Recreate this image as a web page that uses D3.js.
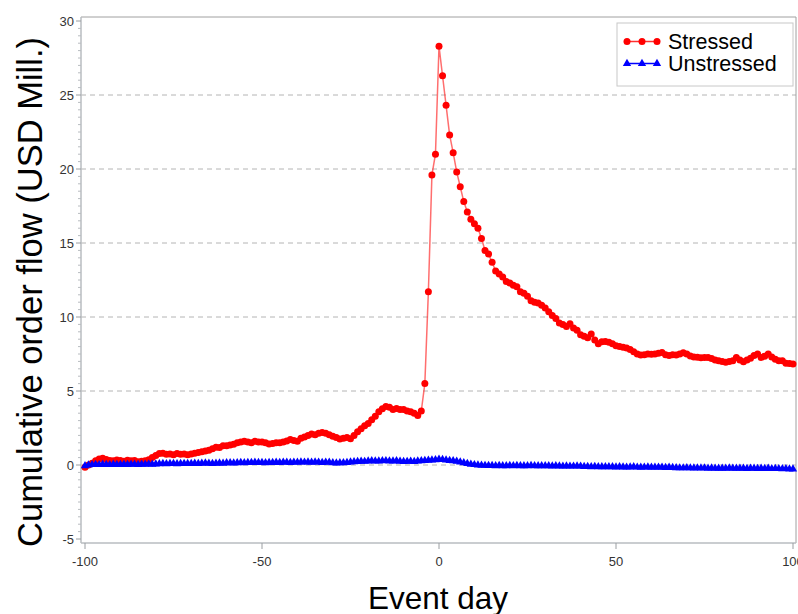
<!DOCTYPE html>
<html>
<head>
<meta charset="utf-8">
<script src="https://cdn.jsdelivr.net/npm/d3@7"></script>
<style>
  html, body { margin: 0; padding: 0; background: #fff; overflow: hidden; }
  svg { display: block; }
</style>
</head>
<body>
<svg id="chart" width="798" height="614"></svg>
<script>
// ---- data ----
const days = d3.range(-100, 101);
const stressed = [
  -0.15, 0.0, 0.12, 0.28, 0.4, 0.45, 0.38, 0.3, 0.28, 0.33,
  0.3, 0.25, 0.32, 0.28, 0.3, 0.22, 0.25, 0.28, 0.35, 0.5,
  0.65, 0.78, 0.8, 0.72, 0.75, 0.7, 0.78, 0.72, 0.75, 0.7,
  0.75, 0.8, 0.85, 0.9, 0.95, 1.0, 1.1, 1.2, 1.18, 1.3,
  1.3, 1.35, 1.4, 1.5, 1.55, 1.6, 1.55, 1.5, 1.6, 1.55,
  1.55, 1.5, 1.42, 1.45, 1.5, 1.5, 1.55, 1.62, 1.72, 1.65,
  1.6, 1.8, 1.9, 2.0, 2.1, 2.05, 2.15, 2.2, 2.15, 2.05,
  1.95, 1.85, 1.75, 1.8, 1.85, 1.78, 2.0, 2.25, 2.45, 2.65,
  2.8, 3.05, 3.3, 3.6, 3.8, 3.95, 3.9, 3.75, 3.82, 3.75,
  3.75, 3.65, 3.6, 3.5, 3.35, 3.65, 5.5, 11.7, 19.6, 21.0,
  28.3,
  26.3, 24.3, 22.3, 21.1, 19.8, 18.8, 17.8, 17.1, 16.6, 16.3,
  16.0, 15.3, 14.5, 14.25, 13.7, 13.1, 12.9, 12.7, 12.4, 12.3,
  12.15, 12.05, 11.7, 11.6, 11.4, 11.1, 11.0, 10.95, 10.8, 10.6,
  10.35, 10.1, 9.9, 9.6, 9.5, 9.35, 9.55, 9.25, 9.1, 8.8,
  8.7, 8.6, 8.85, 8.45, 8.2, 8.33, 8.35, 8.3, 8.2, 8.05,
  8.0, 7.95, 7.9, 7.8, 7.65, 7.5, 7.43, 7.45, 7.5, 7.48,
  7.5, 7.55, 7.6, 7.45, 7.4, 7.45, 7.43, 7.5, 7.58, 7.5,
  7.36, 7.3, 7.28, 7.25, 7.27, 7.27, 7.2, 7.1, 7.05, 7.0,
  6.94, 7.0, 7.05, 7.27, 7.1, 6.98, 7.1, 7.21, 7.4, 7.5,
  7.27, 7.35, 7.5, 7.3, 7.14, 7.05, 7.05, 6.87, 6.85, 6.82
];
const unstressed = [
  -0.05, 0.0, 0.02, 0.03, 0.02, 0.04, 0.03, 0.02, 0.04, 0.03,
  0.03, 0.04, 0.03, 0.05, 0.04, 0.03, 0.05, 0.04, 0.06, 0.05,
  0.06, 0.08, 0.1, 0.08, 0.09, 0.1, 0.08, 0.1, 0.09, 0.1,
  0.1, 0.12, 0.1, 0.11, 0.13, 0.12, 0.1, 0.12, 0.13, 0.12,
  0.14, 0.15, 0.13, 0.15, 0.16, 0.15, 0.17, 0.16, 0.18, 0.16,
  0.17, 0.15, 0.17, 0.16, 0.18, 0.17, 0.19, 0.18, 0.17, 0.19,
  0.18, 0.2, 0.19, 0.2, 0.18, 0.2, 0.19, 0.17, 0.19, 0.18,
  0.15, 0.13, 0.14, 0.15, 0.17, 0.2, 0.22, 0.23, 0.25, 0.24,
  0.26, 0.28, 0.27, 0.26, 0.28, 0.29, 0.27, 0.26, 0.28, 0.25,
  0.23, 0.24, 0.25, 0.23, 0.26, 0.28, 0.3, 0.32, 0.33, 0.35,
  0.38,
  0.36, 0.33, 0.3, 0.28, 0.25, 0.2, 0.15, 0.1, 0.05, 0.02,
  0.0, -0.02, -0.03, -0.04, -0.04, -0.05, -0.04, -0.05, -0.05, -0.04,
  -0.05, -0.04, -0.05, -0.06, -0.05, -0.04, -0.05, -0.06, -0.05, -0.05,
  -0.06, -0.07, -0.06, -0.07, -0.08, -0.07, -0.08, -0.08, -0.07, -0.08,
  -0.1, -0.11, -0.12, -0.11, -0.12, -0.13, -0.12, -0.12, -0.13, -0.14,
  -0.13, -0.14, -0.15, -0.14, -0.13, -0.15, -0.16, -0.15, -0.14, -0.16,
  -0.15, -0.16, -0.15, -0.17, -0.16, -0.18, -0.19, -0.2, -0.2, -0.19,
  -0.2, -0.21, -0.2, -0.21, -0.2, -0.22, -0.21, -0.22, -0.23, -0.22,
  -0.22, -0.21, -0.23, -0.22, -0.23, -0.22, -0.24, -0.23, -0.22, -0.24,
  -0.23, -0.24, -0.23, -0.25, -0.24, -0.25, -0.26, -0.25, -0.27, -0.28
];
const xTicks = [-100, -50, 0, 50, 100];
const yTicks = [-5, 0, 5, 10, 15, 20, 25, 30];
const gridValues = [0, 5, 10, 15, 20, 25];
const seriesNames = ["Stressed", "Unstressed"];

// ---- layout ----
const svg = d3.select("#chart");
const font = "Arial, 'Liberation Sans', sans-serif";
const frame = { left: 81, right: 796, top: 17, bottom: 543 };
const x = d3.scaleLinear().domain([-100, 100]).range([85, 793]);
const y = d3.scaleLinear().domain([-5, 30]).range([539, 21]);

// gridlines
svg.append("g").selectAll("line").data(gridValues).join("line")
  .attr("x1", frame.left).attr("x2", frame.right)
  .attr("y1", d => y(d)).attr("y2", d => y(d))
  .attr("stroke", "#b4b4b4").attr("stroke-width", 1)
  .attr("stroke-dasharray", "5,4");

// frame top/right
svg.append("path")
  .attr("d", `M${frame.left},${frame.top}H${frame.right}V${frame.bottom}`)
  .attr("fill", "none").attr("stroke", "#a0a0a0").attr("stroke-width", 1);

// y axis
const yAxis = svg.append("g").attr("transform", `translate(${frame.left},0)`);
yAxis.append("line").attr("x1", 0).attr("x2", 0).attr("y1", frame.top).attr("y2", frame.bottom)
  .attr("stroke", "#b8bcc0").attr("stroke-width", 1.5);
const yMinor = d3.range(-5, 30.01, 0.5).filter(v => !yTicks.includes(v));
yAxis.selectAll(".minor").data(yMinor).join("line").attr("class", "minor")
  .attr("x1", -3).attr("x2", 0).attr("y1", d => y(d)).attr("y2", d => y(d))
  .attr("stroke", "#b8bcc0").attr("stroke-width", 1);
yAxis.selectAll(".major").data(yTicks).join("line").attr("class", "major")
  .attr("x1", -5).attr("x2", 0).attr("y1", d => y(d)).attr("y2", d => y(d))
  .attr("stroke", "#9a9ea2").attr("stroke-width", 1);
yAxis.selectAll("text").data(yTicks).join("text")
  .attr("x", -7).attr("y", d => y(d)).attr("dy", "0.35em")
  .attr("text-anchor", "end").attr("font-family", font).attr("font-size", 13)
  .attr("fill", "#333").text(d => d);

// x axis
const xAxis = svg.append("g").attr("transform", `translate(0,${frame.bottom})`);
xAxis.append("line").attr("x1", frame.left).attr("x2", frame.right).attr("y1", 0).attr("y2", 0)
  .attr("stroke", "#b8bcc0").attr("stroke-width", 1.5);
xAxis.selectAll(".major").data(xTicks).join("line").attr("class", "major")
  .attr("x1", d => x(d)).attr("x2", d => x(d)).attr("y1", 0).attr("y2", 6)
  .attr("stroke", "#9a9ea2").attr("stroke-width", 1);
xAxis.selectAll("text").data(xTicks).join("text")
  .attr("x", d => x(d)).attr("y", 23)
  .attr("text-anchor", "middle").attr("font-family", font).attr("font-size", 13)
  .attr("fill", "#333").text(d => d);

// axis titles
svg.append("text")
  .attr("transform", "rotate(-90)")
  .attr("x", -292).attr("y", 42)
  .attr("text-anchor", "middle").attr("font-family", font).attr("font-size", 34.5)
  .attr("fill", "#000").text("Cumulative order flow (USD Mill.)");
svg.append("text")
  .attr("x", 438).attr("y", 609)
  .attr("text-anchor", "middle").attr("font-family", font).attr("font-size", 31.5)
  .attr("fill", "#000").text("Event day");

// ---- series ----
const redData = days.map((d, i) => ({ d, v: stressed[i] }));
const blueData = days.map((d, i) => ({ d, v: unstressed[i] }));
const line = d3.line().x(p => x(p.d)).y(p => y(p.v));
const tri = d3.symbol().type(d3.symbolTriangle).size(30);

const plot = svg.append("g");
plot.append("path").datum(redData).attr("d", line)
  .attr("fill", "none").attr("stroke", "#ff3030").attr("stroke-opacity", 0.7).attr("stroke-width", 1.5);
plot.append("g").selectAll("circle").data(redData).join("circle")
  .attr("cx", p => x(p.d)).attr("cy", p => y(p.v)).attr("r", 3.5)
  .attr("fill", "#ff0000");

plot.append("path").datum(blueData).attr("d", line)
  .attr("fill", "none").attr("stroke", "#0000ff").attr("stroke-width", 1.5);
plot.append("g").selectAll("path").data(blueData).join("path")
  .attr("d", tri).attr("transform", p => `translate(${x(p.d)},${y(p.v)})`)
  .attr("fill", "#0000ff");

// ---- legend ----
const lg = svg.append("g");
lg.append("rect").attr("x", 617).attr("y", 23).attr("width", 176).attr("height", 63)
  .attr("fill", "#fff").attr("stroke", "#c8c8c8").attr("stroke-width", 1);
const legendY = [41.5, 63.5];
const markX = [627, 642, 657];
seriesNames.forEach((name, i) => {
  const yy = legendY[i];
  lg.append("line").attr("x1", 625).attr("x2", 659).attr("y1", yy).attr("y2", yy)
    .attr("stroke", i === 0 ? "#ff3030" : "#0000ff").attr("stroke-width", 1.5);
  markX.forEach(mx => {
    if (i === 0) {
      lg.append("circle").attr("cx", mx).attr("cy", yy).attr("r", 3.5).attr("fill", "#ff0000");
    } else {
      lg.append("path").attr("d", tri).attr("transform", `translate(${mx},${yy})`).attr("fill", "#0000ff");
    }
  });
  lg.append("text").attr("x", 668).attr("y", yy).attr("dy", "0.35em")
    .attr("font-family", font).attr("font-size", 21.5).attr("fill", "#000").text(name);
});
</script>
</body>
</html>
